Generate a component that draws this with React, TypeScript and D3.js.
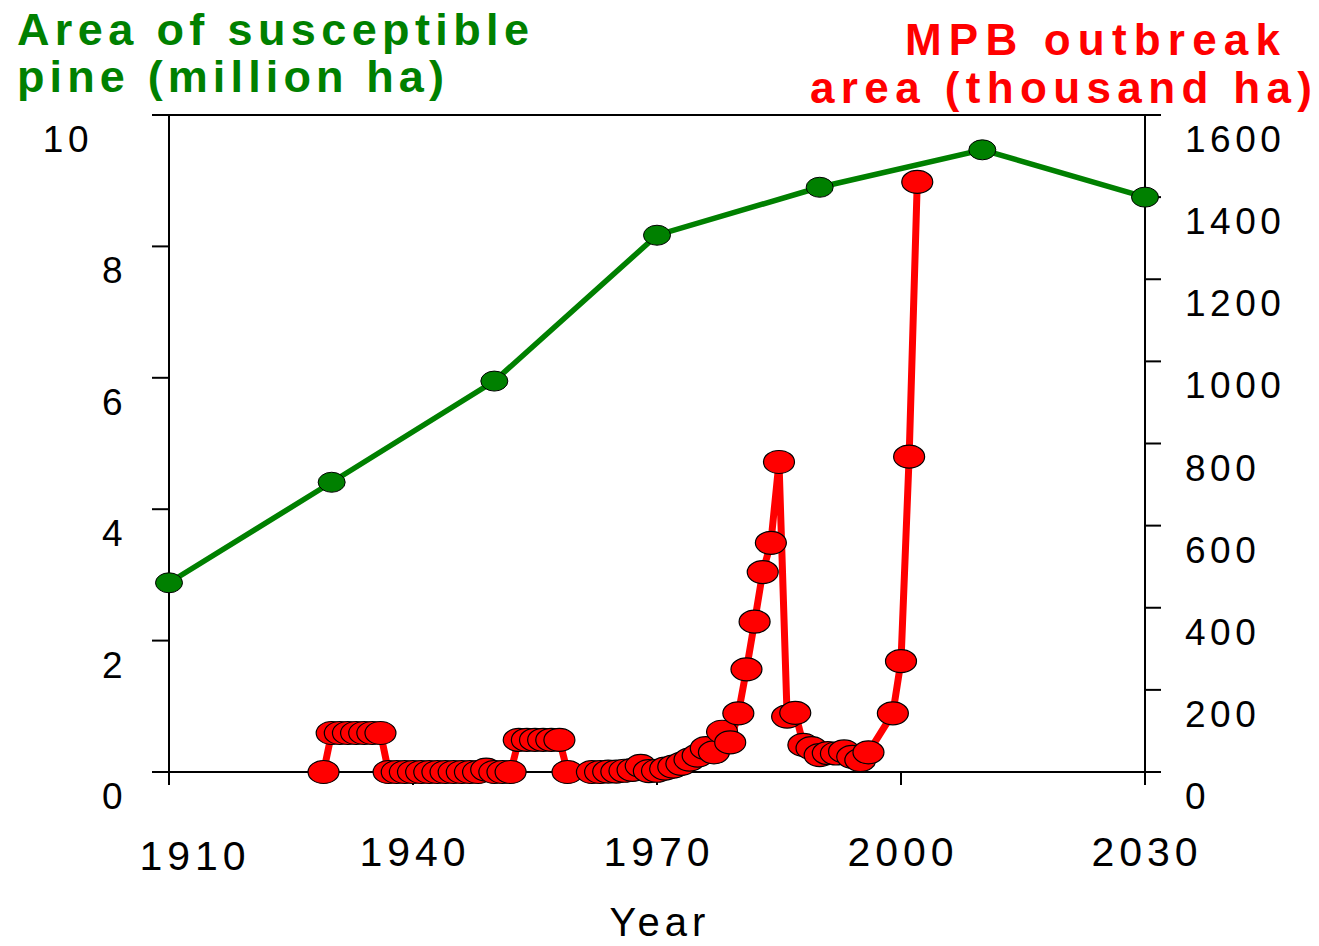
import React from "react";
import * as d3 from "d3";

// Green series: area of susceptible pine (million ha)
const pineYears = [1910, 1930, 1950, 1970, 1990, 2010, 2030];
const pineValues = [2.88, 4.41, 5.95, 8.17, 8.9, 9.47, 8.75];

// Red series: MPB outbreak area (thousand ha)
const mpbYears = [
  1929, 1930, 1931, 1932, 1933, 1934, 1935, 1936,
  1937, 1938, 1939, 1940, 1941, 1942, 1943, 1944, 1945, 1946, 1947, 1948, 1949, 1950, 1951, 1952,
  1953, 1954, 1955, 1956, 1957, 1958, 1959,
  1962, 1963, 1964, 1965, 1966, 1967, 1968, 1969, 1970, 1971, 1972, 1973, 1974, 1975, 1976, 1977, 1978, 1979,
  1980, 1981, 1982, 1983, 1984, 1985, 1986, 1987, 1988, 1989, 1990, 1991, 1992, 1993, 1994, 1995, 1996,
  1999, 2000, 2001, 2002,
];
const mpbValues = [
  0, 95, 95, 95, 95, 95, 95, 95,
  0, 0, 0, 0, 0, 0, 0, 0, 0, 0, 0, 0, 6, 0, 0, 0,
  78, 78, 78, 78, 78, 78, 0,
  0, 0, 1, 1, 3, 5, 15, 2, 3, 8, 13, 20, 30, 40, 58, 48, 98, 72,
  143, 250, 366, 487, 558, 755, 135, 144, 66, 58, 41, 46, 45, 50, 37, 29, 48,
  143, 270, 768, 1437,
];

const leftTicks = [0, 2, 4, 6, 8, 10];
const rightTicks = [0, 200, 400, 600, 800, 1000, 1200, 1400, 1600];
const xTicks = [1910, 1940, 1970, 2000, 2030];

const W = 1319;
const H = 946;
const FONT = "'Liberation Sans', Arial, Helvetica, sans-serif";
const GREEN = "#008000";
const RED = "#ff0000";

export default function App() {
  const x = d3.scaleLinear().domain([1910, 2030]).range([169, 1145]);
  const yL = d3.scaleLinear().domain([0, 10]).range([772, 115]);
  const yR = d3.scaleLinear().domain([0, 1600]).range([772, 115]);

  const pine = pineYears.map((yr, i) => ({ yr, v: pineValues[i] }));
  const mpb = mpbYears.map((yr, i) => ({ yr, v: mpbValues[i] }));

  const pineLine = d3
    .line<{ yr: number; v: number }>()
    .x((d) => x(d.yr))
    .y((d) => yL(d.v));
  const mpbLine = d3
    .line<{ yr: number; v: number }>()
    .x((d) => x(d.yr))
    .y((d) => yR(d.v));

  const x0 = x(1910);
  const x1 = x(2030);
  const yBase = yL(0);
  const yTop = yL(10);

  return (
    <svg
      width={W}
      height={H}
      style={{ position: "absolute", left: 0, top: 0, background: "#fff" }}
      fontFamily={FONT}
    >
      <rect x={0} y={0} width={W} height={H} fill="#fff" />

      {/* Titles */}
      <text x={17} y={45} fill={GREEN} fontWeight="bold" fontSize={45} textLength={512} lengthAdjust="spacing">
        Area of susceptible
      </text>
      <text x={17} y={92} fill={GREEN} fontWeight="bold" fontSize={45} textLength={427} lengthAdjust="spacing">
        pine (million ha)
      </text>
      <text x={905} y={55} fill={RED} fontWeight="bold" fontSize={44} textLength={375} lengthAdjust="spacing">
        MPB outbreak
      </text>
      <text x={810} y={103} fill={RED} fontWeight="bold" fontSize={44} textLength={502} lengthAdjust="spacing">
        area (thousand ha)
      </text>

      {/* Frame */}
      <g stroke="#000" strokeWidth={2} fill="none">
        <line x1={152} x2={1161} y1={yTop} y2={yTop} />
        <line x1={152} x2={1161} y1={yBase} y2={yBase} />
        <line x1={x0} x2={x0} y1={yTop} y2={yBase + 13} />
        <line x1={x1} x2={x1} y1={yTop} y2={yBase + 13} />
        {leftTicks.map((t) => (
          <line key={"lt" + t} x1={152} x2={x0} y1={yL(t)} y2={yL(t)} />
        ))}
        {rightTicks.map((t) => (
          <line key={"rt" + t} x1={x1} x2={1161} y1={yR(t)} y2={yR(t)} />
        ))}
        {xTicks.map((t) => (
          <line key={"xt" + t} x1={x(t)} x2={x(t)} y1={yBase} y2={yBase + 13} />
        ))}
      </g>

      {/* Left tick labels */}
      {leftTicks.map((t) => (
        <text key={"ll" + t} x={t >= 10 ? 93 : 127} y={yL(t) + 37} textAnchor="end" fontSize={37} letterSpacing={4.5} fill="#000">
          {t}
        </text>
      ))}
      {/* Right tick labels */}
      {rightTicks.map((t) => (
        <text key={"rl" + t} x={1185} y={yR(t) + 37} textAnchor="start" fontSize={37} letterSpacing={4.5} fill="#000">
          {t}
        </text>
      ))}
      {/* X tick labels */}
      {xTicks.map((t) => (
        <text key={"xl" + t} x={x(t) + (t === 1910 ? 26 : 2)} y={t === 1910 ? 870 : 866} textAnchor="middle" fontSize={41} letterSpacing={5} fill="#000">
          {t}
        </text>
      ))}
      <text x={660} y={936} textAnchor="middle" fontSize={40} letterSpacing={5} fill="#000">
        Year
      </text>

      {/* Green series */}
      <path d={pineLine(pine) || ""} fill="none" stroke={GREEN} strokeWidth={5.5} />
      {pine.map((d) => (
        <ellipse key={"g" + d.yr} cx={x(d.yr)} cy={yL(d.v)} rx={13.5} ry={10} fill={GREEN} stroke="#000" strokeWidth={1} />
      ))}

      {/* Red series */}
      <path d={mpbLine(mpb) || ""} fill="none" stroke={RED} strokeWidth={7} strokeLinejoin="round" />
      {mpb.map((d) => (
        <ellipse key={"r" + d.yr} cx={x(d.yr)} cy={yR(d.v)} rx={15.5} ry={11.5} fill={RED} stroke="#000" strokeWidth={1.2} />
      ))}
    </svg>
  );
}
